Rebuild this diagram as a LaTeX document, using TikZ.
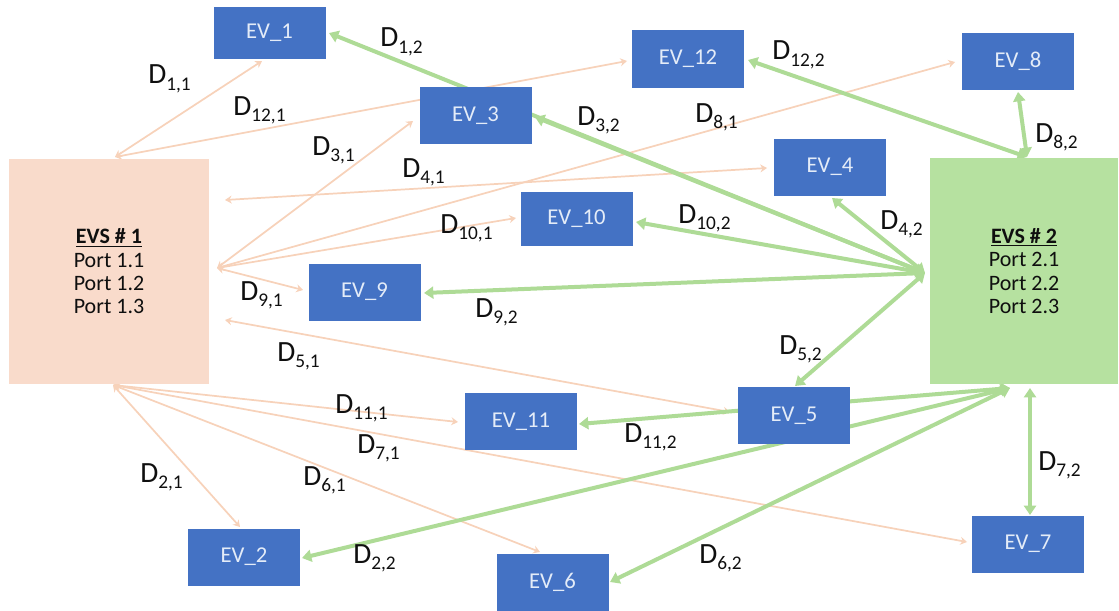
\documentclass[tikz,border=0pt]{standalone}
\usepackage{fontspec}
\setmainfont{Carlito}
\usetikzlibrary{arrows.meta,backgrounds}
\definecolor{evblue}{RGB}{68,114,196}
\definecolor{evtext}{RGB}{228,236,248}
\definecolor{peach}{RGB}{249,219,203}
\definecolor{evsgreen}{RGB}{182,225,160}
\definecolor{gline}{RGB}{174,219,150}
\definecolor{oline}{RGB}{247,210,186}
\definecolor{labtext}{RGB}{15,15,15}
\newcommand\dl[1]{{\fontsize{22}{22}\selectfont D}\raisebox{-5pt}{\fontsize{14.5}{14.5}\selectfont #1}}
\begin{document}
\begin{tikzpicture}[x=0.75pt,y=-0.75pt,
  evbox/.style={fill=evblue, text=evtext, font=\fontsize{17}{17}\selectfont, inner sep=0pt,
    minimum width=112*0.75pt, minimum height=57*0.75pt},
  evsbox/.style={inner sep=0pt, text=labtext, align=center, font=\fontsize{16.5}{17.5}\selectfont},
  lab/.style={anchor=base west, inner sep=0pt, text=labtext},
  gconn/.style={draw=gline, line width=3pt,
    {Triangle[width=9pt,length=7pt]}-{Triangle[width=9pt,length=7pt]}},
  oconn/.style={draw=oline, line width=1.3pt,
    {Stealth[width=6pt,length=5pt]}-{Stealth[width=6pt,length=5pt]}}
]
\useasboundingbox (0,0) rectangle (1119,610);

% stations
\node[evsbox, fill=peach, minimum width=200*0.75pt, minimum height=225*0.75pt] (evs1) at (109,271.5)
  {\underline{\textbf{EVS \# 1}}\\Port 1.1\\Port 1.2\\Port 1.3};
\node[evsbox, fill=evsgreen, minimum width=188*0.75pt, minimum height=226*0.75pt] (evs2) at (1024,271)
  {\underline{\textbf{EVS \# 2}}\\Port 2.1\\Port 2.2\\Port 2.3};

% vehicles
\node[evbox, minimum height=52*0.75pt] (ev1) at (269.5,33) {EV\_1};
\node[evbox] (ev12) at (688,59) {EV\_12};
\node[evbox] (ev8) at (1018,61.5) {EV\_8};
\node[evbox] (ev3) at (475.5,115.5) {EV\_3};
\node[evbox] (ev4) at (830,167) {EV\_4};
\node[evbox, minimum height=54*0.75pt] (ev10) at (576.5,219) {EV\_10};
\node[evbox] (ev9) at (364.5,292) {EV\_9};
\node[evbox] (ev11) at (521,421.5) {EV\_11};
\node[evbox] (ev5) at (794,415.5) {EV\_5};
\node[evbox] (ev7) at (1028,544) {EV\_7};
\node[evbox] (ev2) at (244,557) {EV\_2};
\node[evbox] (ev6) at (552.5,582) {EV\_6};

% hub coordinates
\coordinate (th) at (115,157);
\coordinate (mh) at (217,268);
\coordinate (h4) at (225,200);
\coordinate (h5) at (225,320);
\coordinate (bh) at (113,385);
\coordinate (rh) at (925,273);
\coordinate (tg) at (1027,157);
\coordinate (bg) at (1010,388);
\coordinate (bg7) at (1030,388);

% target points on vehicle boxes
\coordinate (t11) at (262,61);
\coordinate (t121) at (627,61);
\coordinate (t31) at (413,121);
\coordinate (t81) at (955,62);
\coordinate (t101) at (516,218);
\coordinate (t91) at (303,290);
\coordinate (t41) at (767,168);
\coordinate (t51) at (730,412);
\coordinate (t111) at (458,422);
\coordinate (t71) at (967,542);
\coordinate (t61) at (540,552);
\coordinate (t21) at (240,527);
\coordinate (t12) at (329,33);
\coordinate (t32) at (535,117);
\coordinate (t42) at (832,198);
\coordinate (t102) at (636,222);
\coordinate (t92) at (424,293);
\coordinate (t52) at (795,386);
\coordinate (t122) at (748,60);
\coordinate (t82) at (1018,92);
\coordinate (t112) at (579,424);
\coordinate (t22) at (302,558);
\coordinate (t62) at (610,582);
\coordinate (t72) at (1030,515);

\begin{pgfonlayer}{background}
% EVS 1 connections
\draw[oconn] (th) -- (t11);
\draw[oconn] (th) -- (t121);
\draw[oconn] (mh) -- (t31);
\draw[oconn] (mh) -- (t81);
\draw[oconn] (mh) -- (t101);
\draw[oconn] (mh) -- (t91);
\draw[oconn] (h4) -- (t41);
\draw[oconn] (h5) -- (t51);
\draw[oconn] (bh) -- (t111);
\draw[oconn] (bh) -- (t71);
\draw[oconn] (bh) -- (t61);
\draw[oconn] (bh) -- (t21);
% EVS 2 connections
\draw[gconn] (rh) -- (t12);
\draw[gconn] (rh) -- (t32);
\draw[gconn] (rh) -- (t42);
\draw[gconn] (rh) -- (t102);
\draw[gconn] (rh) -- (t92);
\draw[gconn] (rh) -- (t52);
\draw[gconn] (tg) -- (t122);
\draw[gconn] (tg) -- (t82);
\draw[gconn] (bg) -- (t112);
\draw[gconn] (bg) -- (t22);
\draw[gconn] (bg) -- (t62);
\draw[gconn] (bg7) -- (t72);
\end{pgfonlayer}

% labels
\node[lab] (l11) at (148,84) {\dl{1,1}};
\node[lab] (l121) at (233,115) {\dl{12,1}};
\node[lab] (l12) at (380,47) {\dl{1,2}};
\node[lab] (l31) at (312,155) {\dl{3,1}};
\node[lab] (l41) at (402,177) {\dl{4,1}};
\node[lab] (l122) at (772,60) {\dl{12,2}};
\node[lab] (l32) at (577,125) {\dl{3,2}};
\node[lab] (l81) at (695,122) {\dl{8,1}};
\node[lab] (l82) at (1035,142) {\dl{8,2}};
\node[lab] (l101) at (440,233) {\dl{10,1}};
\node[lab] (l102) at (678,223) {\dl{10,2}};
\node[lab] (l42) at (880,229) {\dl{4,2}};
\node[lab] (l91) at (240,300) {\dl{9,1}};
\node[lab] (l92) at (475,317) {\dl{9,2}};
\node[lab] (l51) at (277,361) {\dl{5,1}};
\node[lab] (l52) at (779,354) {\dl{5,2}};
\node[lab] (l111) at (335,413) {\dl{11,1}};
\node[lab] (l71) at (357,453) {\dl{7,1}};
\node[lab] (l61) at (303,485) {\dl{6,1}};
\node[lab] (l21) at (140,482) {\dl{2,1}};
\node[lab] (l22) at (353,563) {\dl{2,2}};
\node[lab] (l112) at (624,442) {\dl{11,2}};
\node[lab] (l72) at (1038,470) {\dl{7,2}};
\node[lab] (l62) at (699,563) {\dl{6,2}};
\end{tikzpicture}
\end{document}
